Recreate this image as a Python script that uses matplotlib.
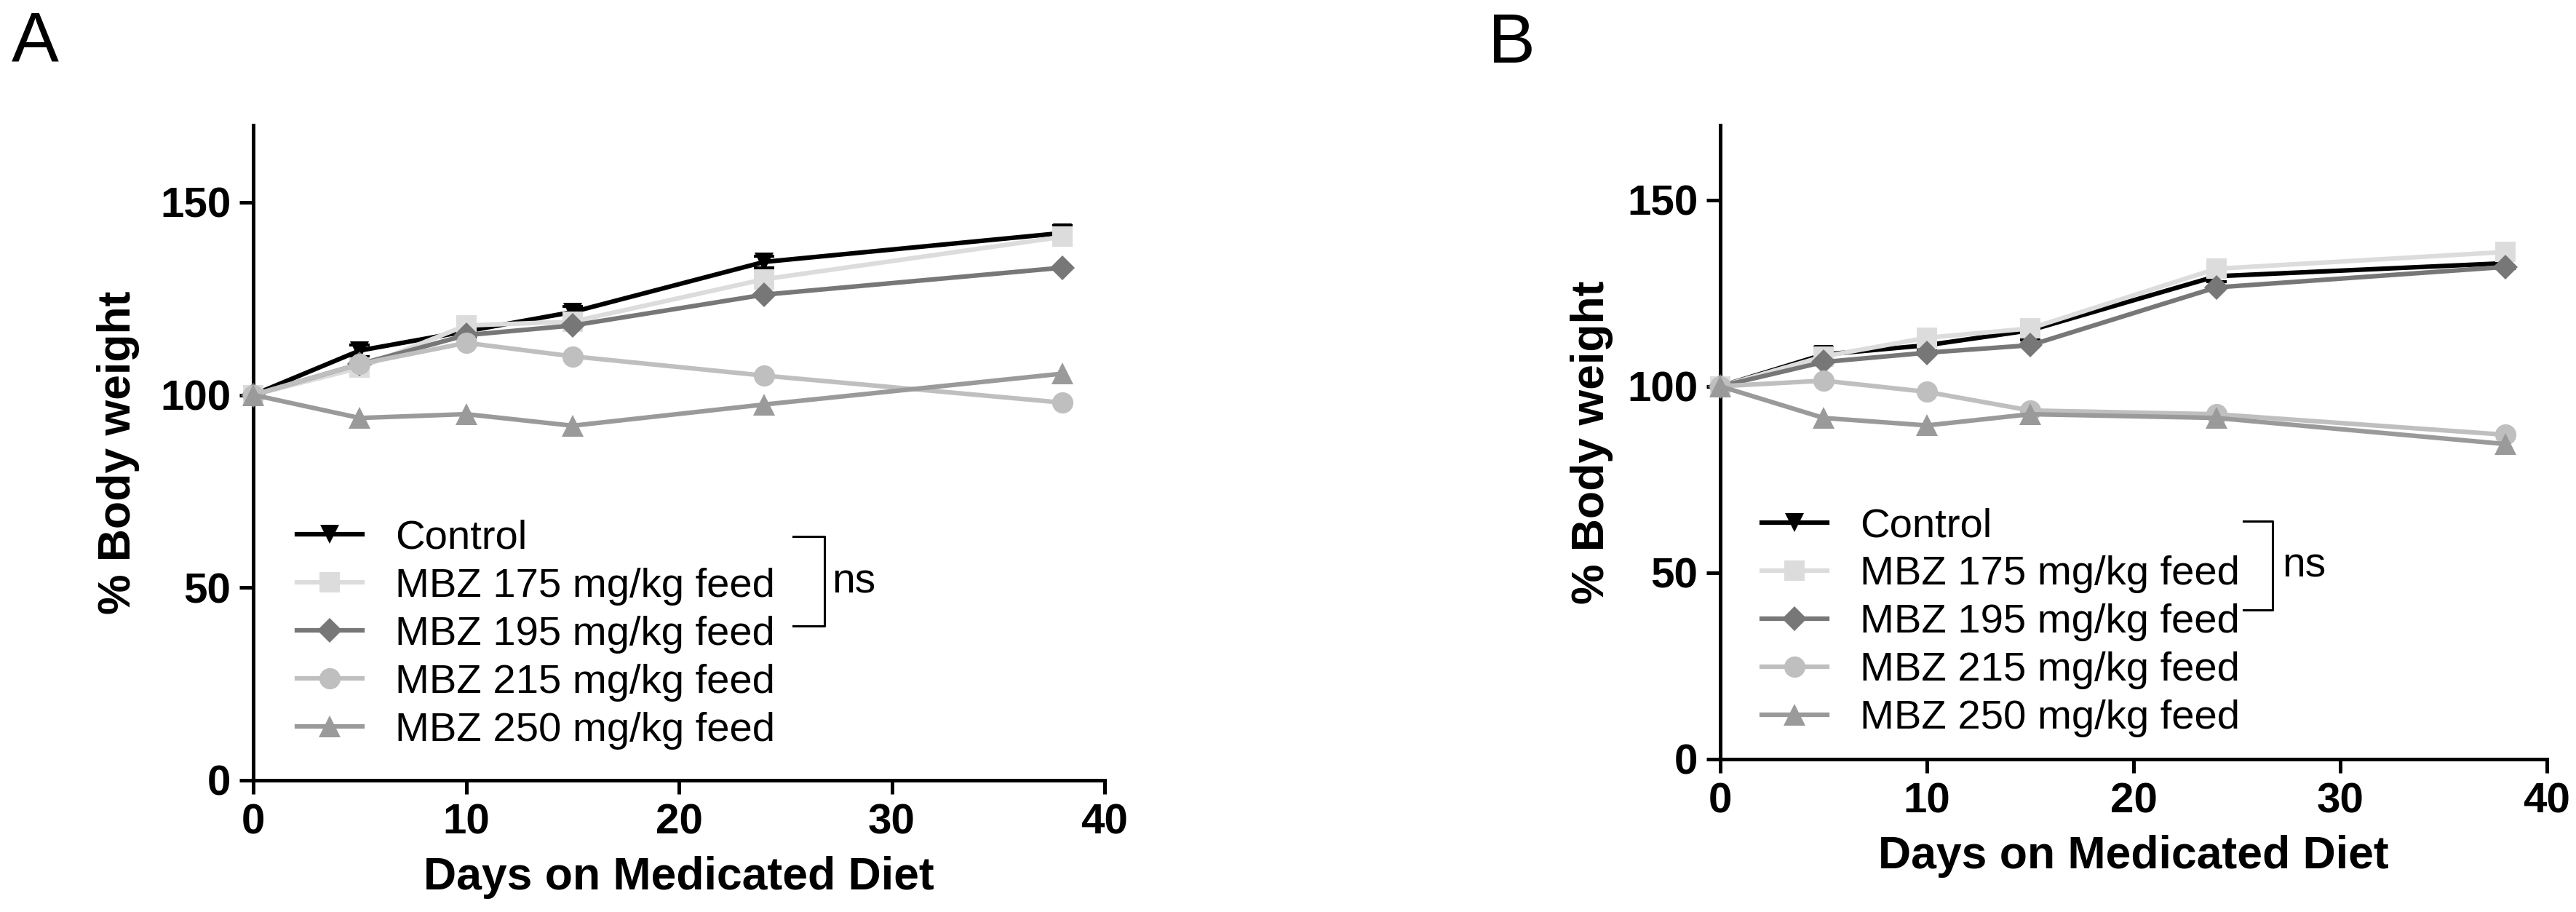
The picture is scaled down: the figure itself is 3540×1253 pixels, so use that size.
import numpy as np
import matplotlib.pyplot as plt

plt.rcParams['font.family'] = ['Liberation Sans', 'DejaVu Sans']

days = [0, 5, 10, 15, 24, 38]
series_names = ['Control', 'MBZ 175 mg/kg feed', 'MBZ 195 mg/kg feed',
                'MBZ 215 mg/kg feed', 'MBZ 250 mg/kg feed']

# panel A
a_control = [100, 111.5, 116.5, 121.5, 134.5, 142]
a_mbz175 = [100, 107, 118, 119, 130, 141]
a_mbz195 = [100, 108, 115.5, 118, 126, 133]
a_mbz215 = [100, 108, 113.5, 110, 105, 98]
a_mbz250 = [100, 94, 95, 92, 97.5, 105.5]
a_control_err = [0, 1.5, 1.5, 1.5, 1.5, 2.0]

# panel B
b_control = [100, 108.5, 111, 115, 129.5, 133]
b_mbz175 = [100, 108, 113, 115.5, 131.5, 136]
b_mbz195 = [100, 106.5, 109, 111, 126.5, 132]
b_mbz215 = [100, 101.5, 98.5, 93.5, 92.5, 87]
b_mbz250 = [100, 91.5, 89.5, 92.5, 91.5, 84.5]
b_control_err = [0, 2.0, 1.5, 2.5, 1.5, 1.5]

y_ticks = [0, 50, 100, 150]
x_ticks = [0, 10, 20, 30, 40]

colors = ['#000000', '#dcdcdc', '#777777', '#bfbfbf', '#9a9a9a']
markers = ['v', 's', 'D', 'o', '^']
msizes = [19, 20, 17, 21, 21]


def dibujar_panel(ax, valores, err, leg_xy, brk_x, brk_y, ns_xy, ypad):
    # barras de error (solo visibles en el control)
    ax.errorbar(days, valores[0], yerr=err, fmt='none', ecolor='black',
                elinewidth=3, capsize=10, capthick=3, clip_on=False, zorder=2)
    for k in range(5):
        ax.plot(days, valores[k], color=colors[k], marker=markers[k],
                markersize=msizes[k], linewidth=4.5, label=series_names[k],
                markeredgewidth=0, clip_on=False, zorder=3 + k)

    ax.set_xlim(0, 40)
    ax.set_ylim(0, 170)
    ax.set_xticks(x_ticks)
    ax.set_yticks(y_ticks)
    for s in ['top', 'right']:
        ax.spines[s].set_visible(False)
    for s in ['left', 'bottom']:
        ax.spines[s].set_linewidth(3.6)
    ax.tick_params(width=3.6, length=14, labelsize=42)
    ax.tick_params(axis='x', pad=9)
    ax.tick_params(axis='y', pad=8)
    for lab in ax.get_xticklabels() + ax.get_yticklabels():
        lab.set_fontweight('bold')

    ax.set_xlabel('Days on Medicated Diet', fontsize=45, fontweight='bold', labelpad=13)
    ax.set_ylabel('% Body weight', fontsize=45, fontweight='bold', labelpad=ypad)

    ax.legend(loc='upper left', bbox_to_anchor=leg_xy, frameon=False, fontsize=40.5,
              handlelength=1.6, handletextpad=0.8, labelspacing=0.25,
              borderpad=0, borderaxespad=0)

    # corchete "ns"
    ax.plot([brk_x[0], brk_x[1], brk_x[1], brk_x[0]],
            [brk_y[0], brk_y[0], brk_y[1], brk_y[1]],
            color='black', linewidth=2.2, transform=ax.transAxes, clip_on=False)
    ax.text(ns_xy[0], ns_xy[1], 'ns', fontsize=41, transform=ax.transAxes,
            ha='left', va='center')


fig = plt.figure(figsize=(35.41, 12.53), dpi=100)

axA = fig.add_axes([0.0983, 0.1445, 0.3304, 0.7183])
dibujar_panel(axA, [a_control, a_mbz175, a_mbz195, a_mbz215, a_mbz250], a_control_err,
              (0.0513, 0.398), (0.634, 0.671), (0.372, 0.236), (0.680, 0.303), 20)

axB = fig.add_axes([0.6676, 0.1676, 0.3208, 0.6951])
dibujar_panel(axB, [b_control, b_mbz175, b_mbz195, b_mbz215, b_mbz250], b_control_err,
              (0.050, 0.397), (0.633, 0.668), (0.375, 0.235), (0.680, 0.305), 14)

fig.text(16 / 3541, 1 - 14 / 1253, 'A', fontsize=70, ha='left', va='top')
fig.text(2045 / 3541, 1 - 16 / 1253, 'B', fontsize=70, ha='left', va='top')

fig.savefig('out.png', dpi=100)
